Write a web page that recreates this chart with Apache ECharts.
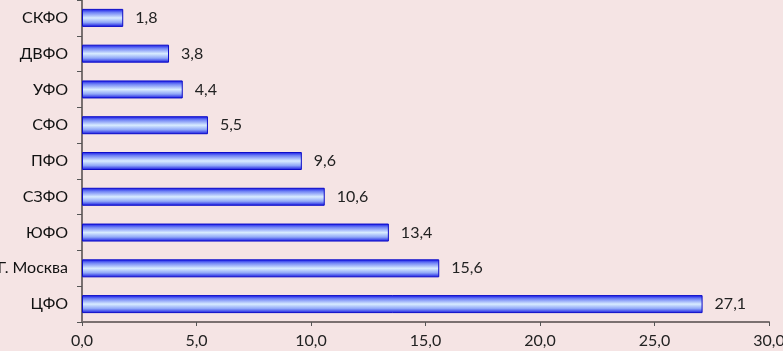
<!DOCTYPE html>
<html><head><meta charset="utf-8">
<script src="https://cdn.jsdelivr.net/npm/echarts@6/dist/echarts.min.js"></script>
<style>html,body{margin:0;padding:0;background:#f5e4e4}#c{width:783px;height:351px}</style>
</head><body><div id="c"></div>
<script>
const categories = ['ЦФО', 'Г. Москва', 'ЮФО', 'СЗФО', 'ПФО', 'СФО', 'УФО', 'ДВФО', 'СКФО'];
const values = [27.1, 15.6, 13.4, 10.6, 9.6, 5.5, 4.4, 3.8, 1.8];
const xMin = 0, xMax = 30, xStep = 5;
const fmt = v => v.toFixed(1).replace('.', ',');
const chart = echarts.init(document.getElementById('c'));
const font = 'Lato, "Open Sans", sans-serif';
chart.setOption({
  backgroundColor: '#f5e4e4',
  animation: false,
  grid: {left: 82, right: 14, top: 0, bottom: 29, containLabel: false, outerBoundsMode: 'none'},
  xAxis: {
    type: 'value', min: xMin, max: xMax, interval: xStep,
    axisLine: {show: true, lineStyle: {color: '#7a7070', width: 2}},
    axisTick: {show: true, length: 4, lineStyle: {color: '#555'}},
    splitLine: {show: false},
    axisLabel: {formatter: fmt, color: '#222', fontSize: 16, fontFamily: font, margin: 11}
  },
  yAxis: {
    type: 'category', data: categories,
    axisLine: {show: true, lineStyle: {color: '#7a7070', width: 2}},
    axisTick: {show: true, length: 5, inside: false, lineStyle: {color: '#555'}},
    axisLabel: {color: '#111', fontSize: 16, fontFamily: font, margin: 14}
  },
  series: [{
    type: 'bar', data: values, barWidth: 18,
    itemStyle: {
      borderColor: '#0c0cc8', borderWidth: 1,
      color: new echarts.graphic.LinearGradient(0, 0, 0, 1, [
        {offset: 0, color: '#1010e6'},
        {offset: 0.2, color: '#6f82f5'},
        {offset: 0.5, color: '#d8ecff'},
        {offset: 0.75, color: '#90a8f8'},
        {offset: 1, color: '#1010e0'}
      ])
    },
    label: {show: true, position: 'right', distance: 12, formatter: p => fmt(p.value),
      color: '#222', fontSize: 16, fontFamily: font}
  }]
});
</script></body></html>
